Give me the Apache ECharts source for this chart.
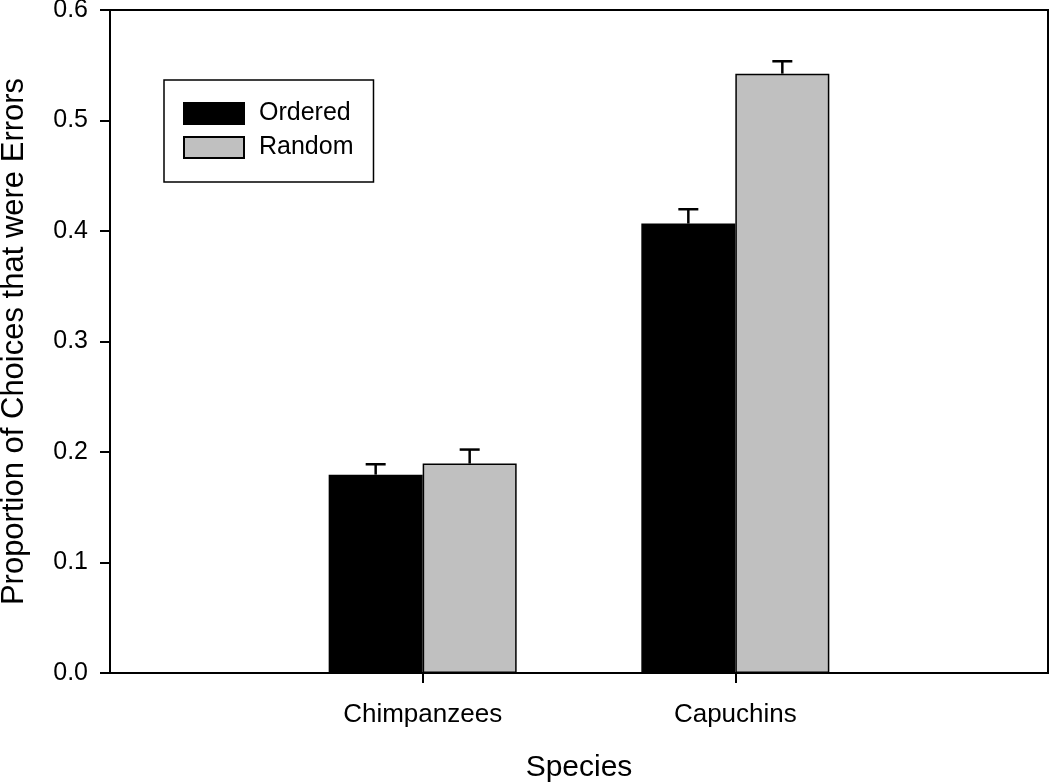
<!DOCTYPE html>
<html>
<head>
<meta charset="utf-8">
<script src="https://cdn.jsdelivr.net/npm/echarts@6/dist/echarts.min.js"></script>
<style>
  html, body { margin: 0; padding: 0; background: #fff; }
  #chart { width: 1050px; height: 784px; }
</style>
</head>
<body>
<div id="chart"></div>
<script>
// categories (blank slots at both ends keep the groups at 1/3 and 2/3)
var species = ["", "Chimpanzees", "Capuchins", ""];
var orderedMean = [null, 0.1795, 0.4067, null];
var orderedErr = [null, 0.0094, 0.013, null];
var randomMean = [null, 0.1895, 0.5424, null];
var randomErr = [null, 0.0127, 0.0112, null];
var yTicks = [0, 0.1, 0.2, 0.3, 0.4, 0.5, 0.6];

var BAR_W = 94;
var FONT = "'Liberation Sans', Arial, sans-serif";

function errData(mean, err) {
  var out = [];
  mean.forEach(function (m, i) {
    if (m != null) out.push([i, m, err[i]]);
  });
  return out;
}

function errSeries(name, mean, err, shift) {
  return {
    name: name + " err",
    type: "custom",
    data: errData(mean, err),
    encode: { x: 0, y: 1 },
    z: 5,
    silent: true,
    renderItem: function (params, api) {
      var top = api.coord([api.value(0), api.value(1) + api.value(2)]);
      var base = api.coord([api.value(0), api.value(1)]);
      var x = base[0] + shift;
      var style = { stroke: "#000", lineWidth: 2.5 };
      return {
        type: "group",
        children: [
          { type: "line", shape: { x1: x, y1: base[1], x2: x, y2: top[1] }, style: style },
          { type: "line", shape: { x1: x - 10, y1: top[1], x2: x + 10, y2: top[1] }, style: style }
        ]
      };
    }
  };
}

var myChart = echarts.init(document.getElementById("chart"));
myChart.setOption({
  backgroundColor: "#fff",
  animation: false,
  textStyle: { fontFamily: FONT, color: "#000" },
  grid: {
    left: 110, right: 2, top: 10, bottom: 111,
    outerBoundsMode: "none",
    containLabel: false,
    show: true, borderColor: "#000", borderWidth: 2
  },
  legend: {
    data: ["Ordered", "Random"],
    orient: "vertical",
    left: 164, top: 80,
    padding: [21, 20, 22, 19],
    itemGap: 9,
    icon: "rect",
    itemWidth: 60, itemHeight: 21,
    borderColor: "#000", borderWidth: 1.5,
    textStyle: { fontSize: 25, color: "#000", fontFamily: FONT, padding: [0, 0, 0, 10] }
  },
  xAxis: {
    type: "category",
    data: species,
    boundaryGap: false,
    name: "Species",
    nameLocation: "middle",
    nameGap: 80,
    nameTextStyle: { fontSize: 30, color: "#000", fontFamily: FONT },
    axisLine: { lineStyle: { color: "#000", width: 2 } },
    axisTick: {
      length: 10,
      lineStyle: { color: "#000", width: 2 },
      interval: function (i) { return i === 1 || i === 2; }
    },
    axisLabel: { fontSize: 26, color: "#000", margin: 29, interval: 0 },
    splitLine: { show: false }
  },
  yAxis: {
    type: "value",
    min: yTicks[0],
    max: yTicks[yTicks.length - 1],
    interval: 0.1,
    name: "Proportion of Choices that were Errors",
    nameLocation: "middle",
    nameGap: 80,
    nameTextStyle: { fontSize: 31, color: "#000", fontFamily: FONT },
    axisLine: { show: true, lineStyle: { color: "#000", width: 2 } },
    axisTick: { show: true, length: 10, lineStyle: { color: "#000", width: 2 } },
    axisLabel: {
      fontSize: 25, color: "#000", margin: 22,
      formatter: function (v) { return v.toFixed(1); }
    },
    splitLine: { show: false }
  },
  series: [
    {
      name: "Ordered",
      type: "bar",
      data: orderedMean,
      barWidth: BAR_W,
      barGap: "0%",
      itemStyle: { color: "#000", borderColor: "#000", borderWidth: 1.5 }
    },
    {
      name: "Random",
      type: "bar",
      data: randomMean,
      barWidth: BAR_W,
      barGap: "0%",
      itemStyle: { color: "#c0c0c0", borderColor: "#000", borderWidth: 1.5 }
    },
    errSeries("Ordered", orderedMean, orderedErr, -BAR_W / 2),
    errSeries("Random", randomMean, randomErr, BAR_W / 2)
  ]
});
</script>
</body>
</html>
